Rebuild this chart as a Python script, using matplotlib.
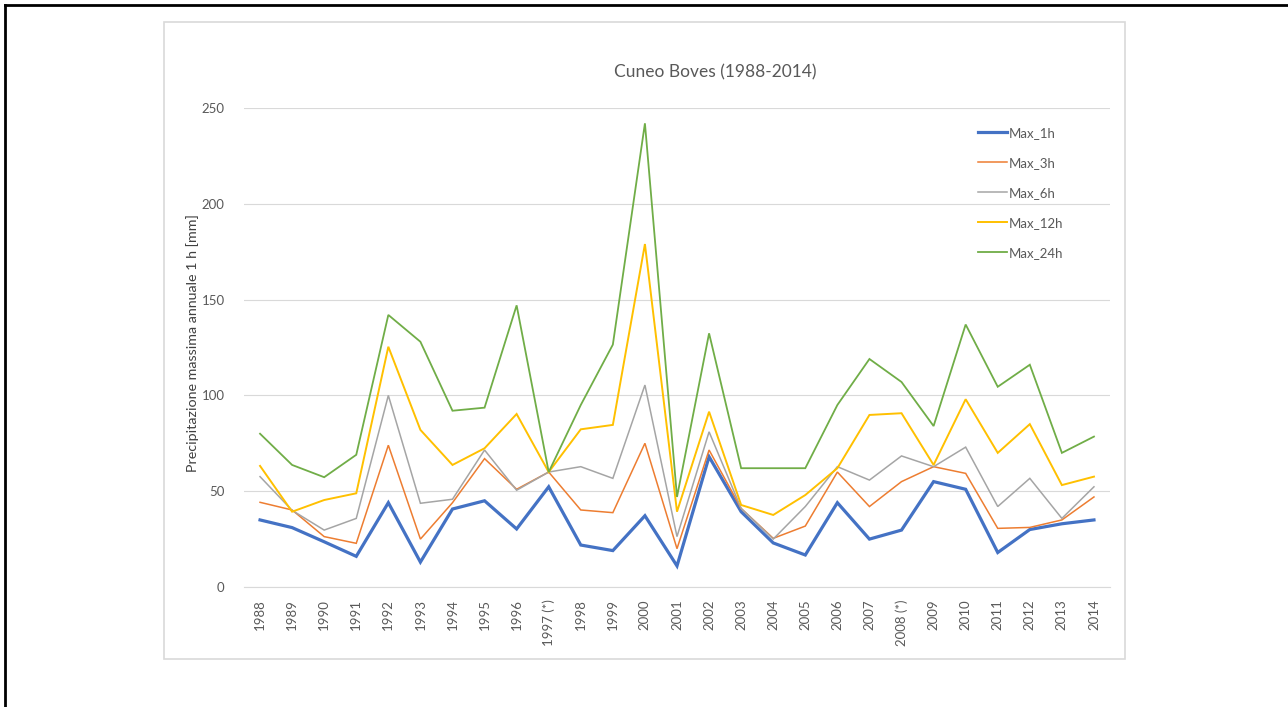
import numpy as np
import matplotlib
matplotlib.use('Agg')
import matplotlib.pyplot as plt
from matplotlib.lines import Line2D
from matplotlib.patches import Rectangle

plt.rcParams['font.family'] = ['Lato', 'DejaVu Sans']

YEARS = ["1988", "1989", "1990", "1991", "1992", "1993", "1994", "1995", "1996",
         "1997 (*)", "1998", "1999", "2000", "2001", "2002", "2003", "2004", "2005",
         "2006", "2007", "2008 (*)", "2009", "2010", "2011", "2012", "2013", "2014"]

max_1h = [35, 31, 23.6, 16, 44, 13, 40.7, 45, 30.3, 52.3, 21.9, 19, 37.2, 11, 68,
          39.3, 23, 16.7, 44, 25, 29.7, 55, 51, 18, 30, 33, 35]
max_3h = [44.2, 40.2, 26.3, 22.8, 74, 25, 44, 67, 51, 60, 40.2, 38.8, 75, 20, 71.5,
          41, 25.4, 31.8, 60, 42, 55, 62.8, 59.3, 30.6, 31.1, 35, 47]
max_6h = [57.6, 40, 29.7, 35.8, 100, 43.7, 45.8, 71.5, 50.5, 60, 62.8, 56.7, 105.4,
          26.3, 81, 41, 25, 42, 62.8, 55.8, 68.4, 62.8, 73, 42, 56.7, 35.8, 52.3]
max_12h = [63.2, 39.3, 45.4, 48.9, 125.4, 82, 63.7, 72.4, 90.3, 60, 82.3, 84.6, 179,
           39.3, 91.5, 42.8, 37.6, 48, 62, 89.8, 90.7, 63.7, 98, 70, 85, 53.2, 57.6]
max_24h = [80, 63.7, 57.3, 69, 142, 128, 92, 93.6, 147, 60, 95, 126.5, 242, 47,
           132.4, 62, 62, 62, 95, 119, 107, 84, 137, 104.5, 116, 70, 78.5]

SERIES = [
    ("Max_1h", max_1h, "#4472C4", 2.3),
    ("Max_3h", max_3h, "#ED7D31", 1.1),
    ("Max_6h", max_6h, "#A5A5A5", 1.1),
    ("Max_12h", max_12h, "#FFC000", 1.4),
    ("Max_24h", max_24h, "#70AD47", 1.3),
]

W, H = 1288, 707
TXT = "#595959"

fig = plt.figure(figsize=(W / 100, H / 100), dpi=100)
fig.patch.set_facecolor("white")

# outer frame (top and left only) and chart-area box
fig.add_artist(Line2D([4.5 / W, 1], [1 - 4.5 / H, 1 - 4.5 / H], color="black", lw=2, transform=fig.transFigure))
fig.add_artist(Line2D([4.5 / W, 4.5 / W], [0, 1 - 4.5 / H], color="black", lw=2, transform=fig.transFigure))
fig.add_artist(Rectangle((164 / W, 1 - 659 / H), (1125 - 164) / W, (659 - 22) / H,
                         fill=False, edgecolor="#D9D9D9", lw=1.2, transform=fig.transFigure))

ax = fig.add_axes([244 / W, 1 - 587 / H, (1110 - 244) / W, (587 - 108) / H])
x = np.arange(len(YEARS))
for name, vals, col, lw in SERIES:
    ax.plot(x, vals, color=col, lw=lw, label=name, solid_joinstyle="miter")

ax.set_xlim(-0.5, len(YEARS) - 0.5)
ax.set_ylim(0, 250)
ax.set_yticks(np.arange(0, 251, 50))
ax.set_xticks(x)
ax.set_xticklabels(YEARS, rotation=90, fontsize=9.5, color=TXT)
ax.tick_params(axis="y", labelsize=9.5, labelcolor=TXT, length=0, pad=14)
ax.tick_params(axis="x", length=0, pad=9)
ax.grid(axis="y", color="#D9D9D9", lw=0.8)
ax.set_axisbelow(True)
for s in ["left", "right", "top"]:
    ax.spines[s].set_visible(False)
ax.spines["bottom"].set_color("#D9D9D9")
ax.spines["bottom"].set_linewidth(0.8)

fig.text(715 / W, 1 - 72 / H, "Cuneo Boves (1988-2014)", ha="center", va="center",
         fontsize=12.5, color=TXT)
fig.text(193 / W, 1 - 343 / H, "Precipitazione massima annuale 1 h [mm]", rotation=90,
         ha="center", va="center", fontsize=10.3, color="#404040")

leg = ax.legend(loc="upper left", bbox_to_anchor=(978 / W, 1 - 127 / H),
                bbox_transform=fig.transFigure, frameon=False, fontsize=9.5,
                handlelength=2.2, handletextpad=0.15, labelspacing=1.36,
                borderpad=0, borderaxespad=0)
for t in leg.get_texts():
    t.set_color(TXT)

fig.savefig("out.png", dpi=100)
